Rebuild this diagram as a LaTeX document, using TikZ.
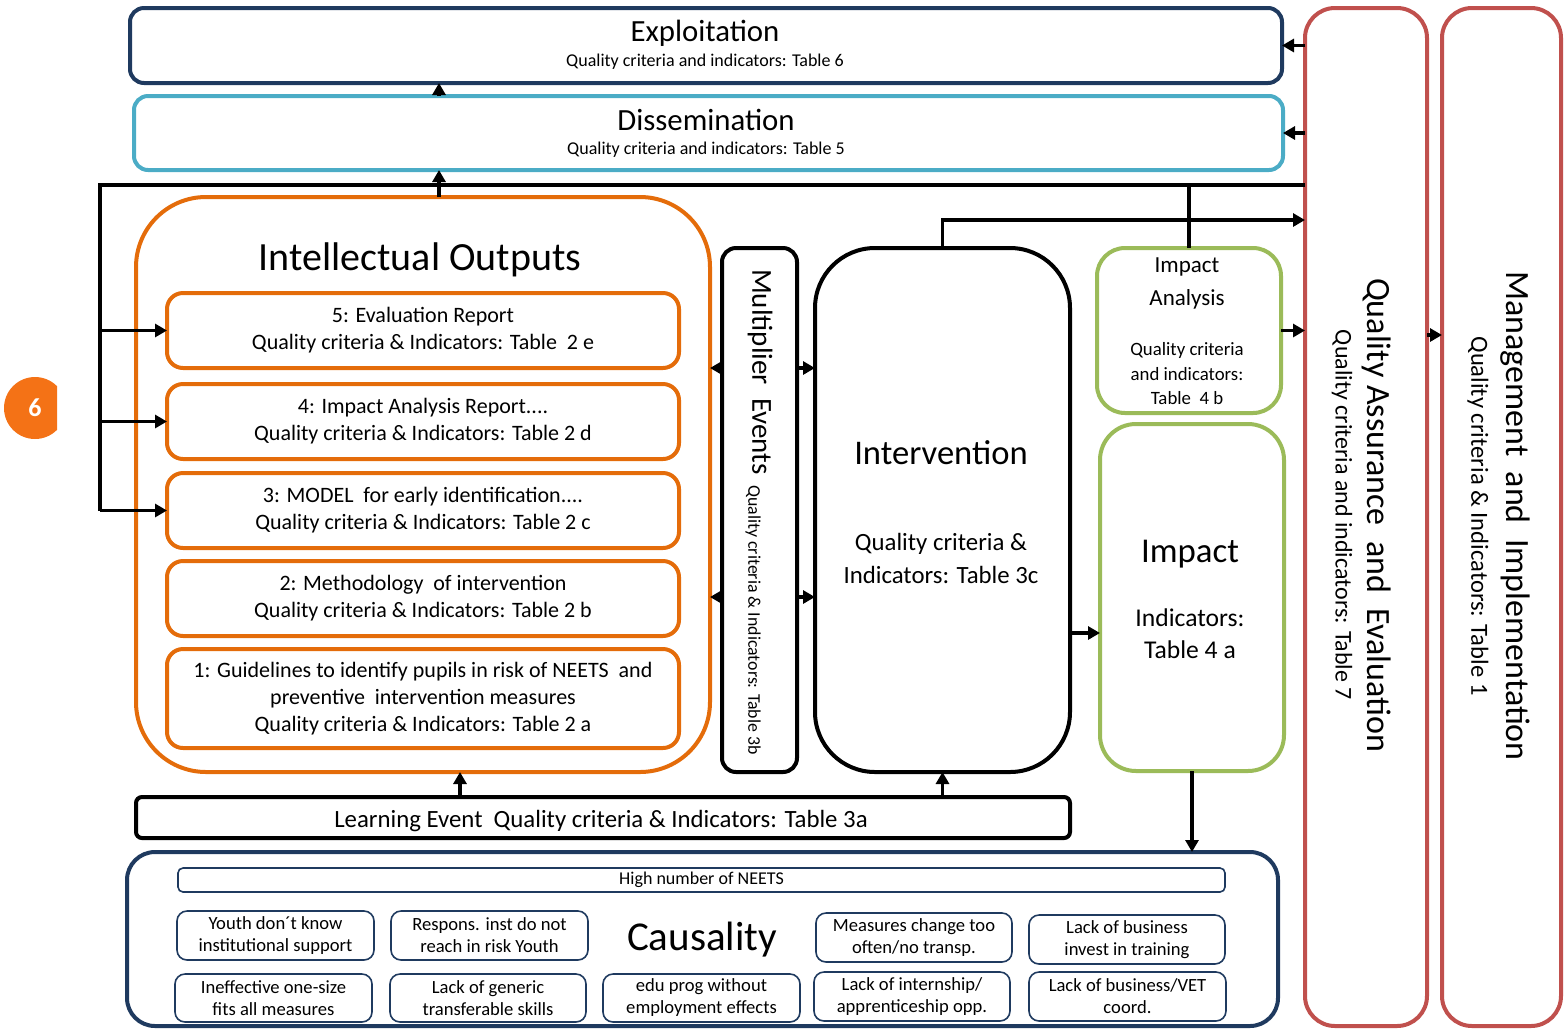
\documentclass[tikz,border=0pt]{standalone}
\usepackage{fontspec}
\setmainfont{Carlito}
\usetikzlibrary{arrows.meta}

\definecolor{navy}{HTML}{1F3A5F}
\definecolor{lblue}{HTML}{4BACC6}
\definecolor{orng}{HTML}{E46C0A}
\definecolor{orngsix}{HTML}{F47216}
\definecolor{grn}{HTML}{9BBB59}
\definecolor{rd}{HTML}{C0504D}

\newcommand\fs[2]{\fontsize{#1}{#2}\selectfont}
% box from pixel corners (x1,y1)-(x2,y2): name, style, x1, y1, x2, y2, text
\newcommand\pbox[7]{%
  \node[#2, minimum width={(#5-#3)*0.5pt}, minimum height={(#6-#4)*0.5pt}]
    (#1) at ({(#3+#5)/2},{(#4+#6)/2}) {#7};}

\tikzset{
  box/.style={draw, line width=2pt, inner sep=0pt, outer sep=0pt, align=center},
  obox/.style={box, draw=orng, rounded corners=8pt, font=\fs{11}{13.5}},
  cbox/.style={box, draw=navy, line width=0.8pt, rounded corners=5pt, font=\fs{9.3}{11}},
  arr/.style={line width=1.7pt, -{Triangle[length=6pt,width=6.5pt]}},
  ln/.style={line width=1.7pt},
}

\begin{document}
\begin{tikzpicture}[x=0.5pt, y=-0.5pt]
\useasboundingbox (0,0) rectangle (1565,1030);

% lanes for connectors
\coordinate (xIO) at (439,0);
\coordinate (xLE) at (460,0);
\coordinate (fb) at (100,185);
\coordinate (yFB) at (0,185);
\coordinate (yInt) at (0,220);
\coordinate (yQM) at (0,335);
\coordinate (yM1) at (0,368);
\coordinate (yM2) at (0,597);
\coordinate (yImp) at (0,633);

% top bands
\pbox{exp}{box, draw=navy, rounded corners=7pt}{130}{8}{1282}{83}{}
\node[font=\fs{15.4}{18}] (expT) at (705,33) {Exploitation};
\node[font=\fs{9}{10}] (expS) at (705,62) {Quality criteria and indicators: Table 6};

\pbox{dis}{box, draw=lblue, rounded corners=7pt}{134}{96}{1283}{170}{}
\node[font=\fs{15.4}{18}] (disT) at (706,120) {Dissemination};
\node[font=\fs{9}{10}] (disS) at (706,150) {Quality criteria and indicators: Table 5};

% intellectual outputs
\pbox{io}{box, draw=orng, rounded corners=35pt}{136}{197}{710}{772}{}
\node[font=\fs{20}{23}] (ioT) at (420,260) {Intellectual Outputs};
\pbox{o5}{obox}{167}{293}{679}{368}{5: Evaluation Report\\Quality criteria \& Indicators: Table~~2 e}
\pbox{o4}{obox}{167}{384}{679}{459}{4: Impact Analysis Report....\\Quality criteria \& Indicators: Table 2 d}
\pbox{o3}{obox}{167}{473}{679}{548}{3: MODEL~~for early identification....\\Quality criteria \& Indicators: Table 2 c}
\pbox{o2}{obox}{167}{561}{679}{636}{2: Methodology~~of intervention\\Quality criteria \& Indicators: Table 2 b}
\pbox{o1}{obox}{167}{649}{679}{748}{1: Guidelines to identify pupils in risk of NEETS~~and\\preventive~~intervention measures\\Quality criteria \& Indicators: Table 2 a}

% multiplier events
\pbox{me}{box, rounded corners=7pt}{722}{248}{797}{772}{}
\node[rotate=-90, font=\fs{14.5}{16}] (meT) at (760,372) {Multiplier~~Events};
\node[rotate=-90, font=\fs{8.9}{10}] (meS) at (753,620) {Quality criteria \& Indicators: Table 3b};

% intervention
\pbox{int}{box, rounded corners=30pt}{815}{248}{1070}{772}{}
\node[font=\fs{17.3}{20}] (intT) at (941,453) {Intervention};
\node[font=\fs{12.4}{16.5}, align=center] (intS) at (941,558) {Quality criteria \&\\Indicators: Table 3c};

% impact analysis and impact
\pbox{ia}{box, draw=grn, rounded corners=14pt}{1097}{248}{1281}{413}{}
\node[font=\fs{11.5}{16.5}, align=center] (iaT) at (1187,283) {Impact\\Analysis};
\node[font=\fs{9.4}{12.25}, align=center] (iaS) at (1187,374) {Quality criteria\\and indicators:\\Table~~4 b};

\pbox{imp}{box, draw=grn, rounded corners=18pt}{1100}{424}{1284}{771}{}
\node[font=\fs{17.4}{20}] (impT) at (1190,554) {Impact};
\node[font=\fs{12.8}{16}, align=center] (impS) at (1190,634) {Indicators:\\Table 4 a};

% learning event
\pbox{le}{box, rounded corners=3pt}{136}{797}{1070}{838}{}
\node[font=\fs{12.4}{14}] (leT) at (601,821) {Learning Event~~Quality criteria \& Indicators: Table 3a};

% causality
\pbox{caus}{box, draw=navy, rounded corners=14pt}{127}{852}{1278}{1026}{}
\pbox{neet}{cbox, rounded corners=2.5pt, font=\fs{9}{10}}{178}{868}{1225}{892}{High number of NEETS}
\node[font=\fs{20.5}{23}] (causT) at (702,940) {Causality};
\pbox{c1}{cbox}{177}{911}{374}{960}{Youth don´t know\\institutional support}
\pbox{c2}{cbox}{391}{911}{588}{960}{Respons. inst do not\\reach in risk Youth}
\pbox{c3}{cbox}{816}{913}{1012}{962}{Measures change too\\often/no transp.}
\pbox{c4}{cbox}{1029}{915}{1225}{964}{Lack of business\\invest in training}
\pbox{c5}{cbox}{175}{974}{372}{1022}{Ineffective one-size\\fits all measures}
\pbox{c6}{cbox}{390}{974}{586}{1022}{Lack of generic\\transferable skills}
\pbox{c7}{cbox}{603}{974}{800}{1022}{edu prog without\\employment effects}
\pbox{c8}{cbox}{814}{972}{1010}{1021}{Lack of internship/\\apprenticeship opp.}
\pbox{c9}{cbox}{1029}{972}{1226}{1021}{Lack of business/VET\\coord.}

% quality assurance and management columns
\pbox{qa}{box, draw=rd, rounded corners=15pt}{1305}{8}{1427}{1026}{}
\node[rotate=-90, font=\fs{17}{19}] (qaT) at (1377,515) {Quality Assurance~~and~~Evaluation};
\node[rotate=-90, font=\fs{12}{14}] (qaS) at (1342,515) {Quality criteria and indicators: Table 7};

\pbox{mg}{box, draw=rd, rounded corners=15pt}{1442}{8}{1561}{1026}{}
\node[rotate=-90, font=\fs{17}{20}] (mgT) at (1515,516) {Management~~and~~Implementation};
\node[rotate=-90, font=\fs{12.3}{14}] (mgS) at (1478,516) {Quality criteria \& Indicators: Table 1};

% step marker
\begin{scope}
  \clip (0,360) rectangle (57,460);
  \node[circle, fill=orngsix, minimum size=31pt, inner sep=0pt, text=white,
        font=\bfseries\fs{13}{15}] (six) at (35,408) {6};
\end{scope}

% connectors
\draw[arr] (dis.north -| xIO) -- (exp.south -| xIO);
\draw[arr] (io.north -| xIO) -- (dis.south -| xIO);
\draw[arr] (qa.west |- exp.east) -- (exp.east);
\draw[arr] (qa.west |- dis.east) -- (dis.east);

\draw[ln] (qa.west |- yFB) -- (fb) -- (fb |- o3.west);
\draw[arr] (fb |- o5.west) -- (o5.west);
\draw[arr] (fb |- o4.west) -- (o4.west);
\draw[arr] (fb |- o3.west) -- (o3.west);
\draw[ln] (ia.north |- yFB) -- (ia.north);

\draw[arr] (int.north) -- (int.north |- yInt) -- (qa.west |- yInt);
\draw[arr] (ia.east) -- (qa.west |- ia.east);
\draw[arr] (qa.east |- yQM) -- (mg.west |- yQM);

\draw[arr] (me.west |- yM1) -- (io.east |- yM1);
\draw[arr] (me.west |- yM2) -- (io.east |- yM2);
\draw[arr] (me.east |- yM1) -- (int.west |- yM1);
\draw[arr] (me.east |- yM2) -- (int.west |- yM2);
\draw[arr] (int.east |- yImp) -- (imp.west |- yImp);
\draw[arr] (imp.south) -- (caus.north -| imp.south);

\draw[arr] (le.north -| xLE) -- (io.south -| xLE);
\draw[arr] (le.north -| int.south) -- (int.south);
\end{tikzpicture}
\end{document}
